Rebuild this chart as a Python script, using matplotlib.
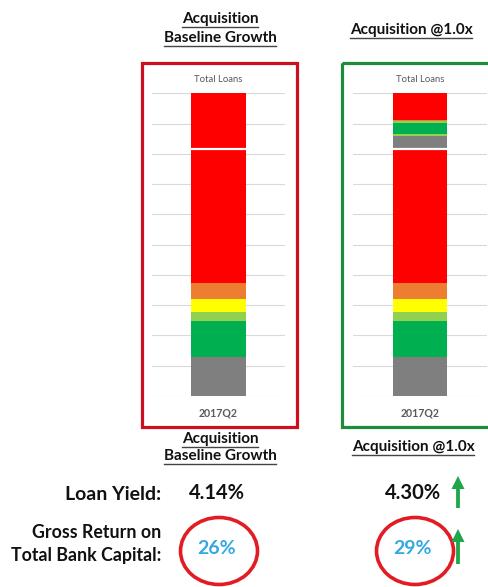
import matplotlib.pyplot as plt
from matplotlib.patches import Rectangle, Ellipse, FancyArrow

plt.rcParams['font.family'] = ['Lato', 'DejaVu Sans']

# loan mix stacks (gridline units), bottom to top
seg_colors = ['#7F7F7F', '#00B050', '#92D050', '#FFFF00', '#ED7D31', '#FF0000']
base_loans = [1.30, 1.19, 0.27, 0.43, 0.55, 4.41]
# acquired book stacked above the existing book
acq_baseline = [0.0, 0.0, 0.0, 0.0, 0.0, 1.85]
acq_colors_1x = ['#7F7F7F', '#92D050', '#00B050', '#92D050', '#ED7D31', '#FF0000']
acq_1x = [0.45, 0.07, 0.36, 0.04, 0.05, 0.88]

period = '2017Q2'
scenarios = ['Acquisition\nBaseline Growth', 'Acquisition @1.0x']
loan_yield = ['4.14%', '4.30%']
gross_return = ['26%', '29%']

W, H = 488, 587
fig = plt.figure(figsize=(W / 100, H / 100), dpi=100)


def px_axes(x0, y0, x1, y1):
    return fig.add_axes([x0 / W, 1 - y1 / H, (x1 - x0) / W, (y1 - y0) / H])


# overlay in pixel coordinates for frames and labels
ov = fig.add_axes([0, 0, 1, 1])
ov.set_xlim(0, W)
ov.set_ylim(H, 0)
ov.axis('off')


def stack_bar(ax, base, base_cols, top, top_cols):
    bottom = 0.0
    for v, c in zip(base, base_cols):
        ax.bar(0, v, width=0.41, bottom=bottom, color=c, linewidth=0)
        bottom += v
    split = bottom
    for v, c in zip(top, top_cols):
        if v > 0:
            ax.bar(0, v, width=0.41, bottom=bottom, color=c, linewidth=0)
        bottom += v
    ax.hlines(split, -0.205, 0.205, colors='white', linewidth=1.6, zorder=5)


def chart(x0, x1, top, top_cols):
    ax = px_axes(x0, 93.3, x1, 396)
    ax.set_xlim(-0.5, 0.5)
    ax.set_ylim(0, 10)
    for g in range(11):
        ax.axhline(g, color='#D9D9D9', linewidth=0.8, zorder=0)
    stack_bar(ax, base_loans, seg_colors, top, top_cols)
    ax.axis('off')
    return ax


chart(152, 285, acq_baseline, seg_colors)
chart(353, 487, acq_1x, acq_colors_1x)

# frames around each scenario
ov.add_patch(Rectangle((142, 62.5), 154.5, 364.5, fill=False, edgecolor='#CC1020', linewidth=2.3))
ov.add_patch(Rectangle((342, 62.5), 160, 364.5, fill=False, edgecolor='#1E8C3A', linewidth=2.3))

for cx in (218, 420):
    ov.text(cx, 79, 'Total Loans', ha='center', va='center', fontsize=6.8, color='#595959')
    ov.text(cx, 413, period, ha='center', va='center', fontsize=7.6, color='#595959', fontweight='bold')


def underlined(cx, cy, txt, size=11):
    t = ov.text(cx, cy, txt, ha='center', va='center', fontsize=size, fontweight='bold', color='#111111')
    fig.canvas.draw()
    bb = t.get_window_extent().transformed(ov.transData.inverted())
    ov.plot([bb.x0, bb.x1], [cy + 8, cy + 8], color='#444444', linewidth=1.0)


# scenario titles, top and bottom
line1, line2 = scenarios[0].split('\n')
underlined(220, 19, line1)
underlined(220, 38, line2)
underlined(411, 30, scenarios[1])
underlined(220, 439, line1)
underlined(220, 456, line2)
underlined(413, 447, scenarios[1])

# metrics
ov.text(161, 494, 'Loan Yield:', ha='right', va='center', fontsize=14, fontweight='bold', color='#111111')
ov.text(161, 533, 'Gross Return on', ha='right', va='center', fontsize=12.8, fontweight='bold', color='#111111')
ov.text(161, 555, 'Total Bank Capital:', ha='right', va='center', fontsize=12.8, fontweight='bold', color='#111111')

for cx, ly, gr in zip((217, 413), loan_yield, gross_return):
    ov.text(cx, 493, ly, ha='center', va='center', fontsize=14.5, fontweight='bold', color='#111111')
    ov.text(cx, 549, gr, ha='center', va='center', fontsize=14, fontweight='bold', color='#35A8E0')
    ov.add_patch(Ellipse((cx + 2, 551), 77, 67, fill=False, edgecolor='#E31B23', linewidth=2.6))

# improvement arrows
for tip, base in ((476, 508), (529, 564)):
    ov.add_patch(FancyArrow(458, base, 0, tip - base, width=3.8, head_width=13, head_length=13,
                            length_includes_head=True, color='#1FA64A', linewidth=0))

fig.savefig('out.png', dpi=100)
